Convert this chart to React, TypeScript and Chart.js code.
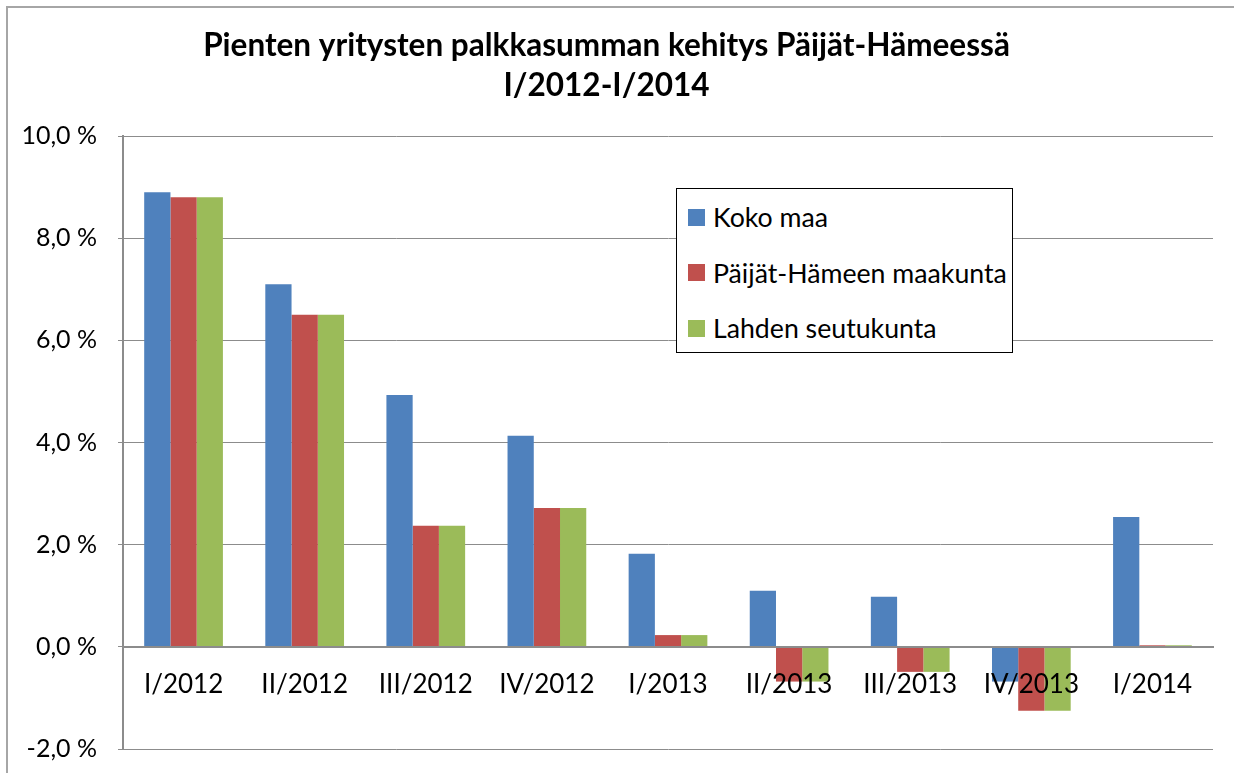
import React, { useEffect, useRef } from "react";
import { Chart, registerables } from "chart.js";

Chart.register(...registerables);

const categories = ["I/2012", "II/2012", "III/2012", "IV/2012", "I/2013", "II/2013", "III/2013", "IV/2013", "I/2014"];
const kokoMaa = [8.9, 7.1, 4.93, 4.13, 1.82, 1.1, 0.98, -0.68, 2.54];
const paijatHame = [8.8, 6.5, 2.37, 2.72, 0.23, -0.68, -0.49, -1.25, 0.03];
const lahti = [8.8, 6.5, 2.37, 2.72, 0.23, -0.68, -0.49, -1.25, 0.03];
const seriesNames = ["Koko maa", "Päijät-Hämeen maakunta", "Lahden seutukunta"];
const seriesColors = ["#4F81BD", "#C0504D", "#9BBB59"];
const titleLines = ["Pienten yritysten palkkasumman kehitys Päijät-Hämeessä", "I/2012-I/2014"];
const yMin = -2;
const yMax = 10;
const yStep = 2;

const FONT = "Lato, 'Open Sans', sans-serif";

export default function App() {
  const ref = useRef<HTMLCanvasElement | null>(null);

  useEffect(() => {
    const canvas = ref.current;
    if (!canvas) return;
    const values = [kokoMaa, paijatHame, lahti];
    const chart = new Chart(canvas, {
      type: "bar",
      data: {
        labels: categories,
        datasets: values.map((v, i) => ({
          label: seriesNames[i],
          data: v,
          backgroundColor: seriesColors[i],
          borderWidth: 0,
          categoryPercentage: 0.65,
          barPercentage: 1.0,
        })),
      },
      options: {
        animation: false,
        responsive: false,
        devicePixelRatio: 1,
        layout: { padding: { left: 0, right: 21, top: 0, bottom: 24 } },
        plugins: {
          legend: { display: false },
          tooltip: { enabled: false },
          title: {
            display: true,
            text: titleLines,
            color: "#000",
            font: { family: FONT, size: 31.5, weight: "bold", lineHeight: 1.27 },
            padding: { top: 26, bottom: 30 },
          },
        },
        scales: {
          x: {
            position: { y: 0 } as any,
            grid: { drawOnChartArea: false, drawTicks: false },
            border: { display: true, color: "#8c8c8c", width: 2, z: 1 },
            ticks: {
              z: 1,
              color: "#000",
              padding: 22,
              maxRotation: 0,
              autoSkip: false,
              font: { family: FONT, size: 26 },
            },
            afterFit: (s: any) => {
              s.height = 0;
              s.paddingLeft = 0;
              s.paddingRight = 0;
            },
          },
          y: {
            min: yMin,
            max: yMax,
            grid: { color: "#8c8c8c", lineWidth: 1, tickLength: 5, drawTicks: true },
            border: { display: true, color: "#8c8c8c", width: 2 },
            ticks: {
              stepSize: yStep,
              color: "#000",
              padding: 21,
              font: { family: FONT, size: 25 },
              callback: (v: any) => Number(v).toFixed(1).replace(".", ",") + " %",
            },
            afterFit: (s: any) => {
              s.width = 123;
              s.paddingTop = 0;
              s.paddingBottom = 0;
            },
          },
        },
      },
    });
    return () => chart.destroy();
  }, []);

  return (
    <div style={{ position: "fixed", left: 0, top: 0, width: 1234, height: 773, background: "#fff", overflow: "hidden" }}>
      <div
        style={{
          position: "absolute",
          left: 6,
          top: 6,
          width: 1300,
          height: 900,
          borderTop: "2px solid #a6a6a6",
          borderLeft: "2px solid #a6a6a6",
        }}
      />
      <canvas ref={ref} width={1234} height={773} style={{ position: "absolute", left: 0, top: 0 }} />
      <div
        style={{
          position: "absolute",
          left: 676,
          top: 188,
          width: 335,
          height: 163,
          border: "1.5px solid #000",
          background: "#fff",
          fontFamily: FONT,
          fontSize: 26.7,
          color: "#000",
        }}
      >
        {seriesNames.map((n, i) => (
          <div
            key={n}
            style={{
              position: "absolute",
              left: 11,
              top: 12 + i * 55.5,
              height: 32,
              display: "flex",
              alignItems: "center",
              whiteSpace: "nowrap",
            }}
          >
            <span style={{ display: "inline-block", width: 17, height: 17, background: seriesColors[i], marginRight: 8 }} />
            <span>{n}</span>
          </div>
        ))}
      </div>
    </div>
  );
}
